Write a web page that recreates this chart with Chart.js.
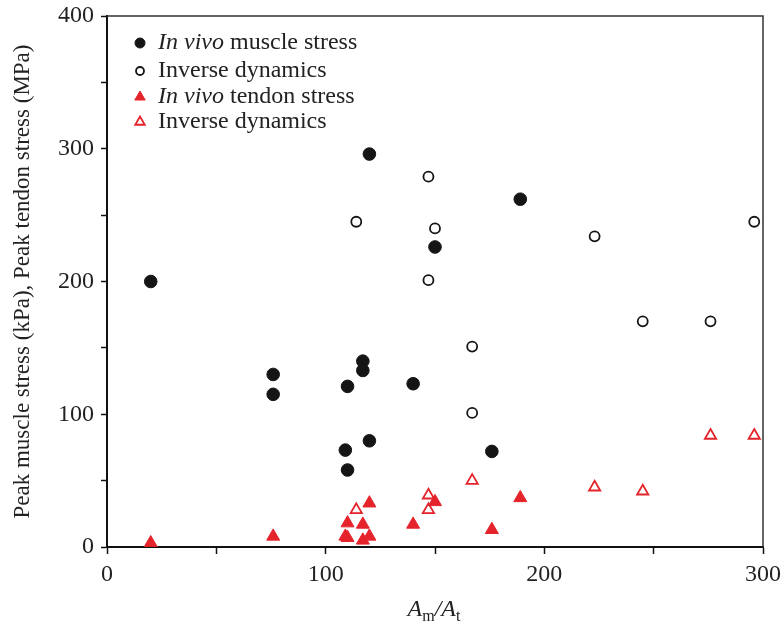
<!DOCTYPE html>
<html>
<head>
<meta charset="utf-8">
<script src="https://cdn.jsdelivr.net/npm/chart.js@4"></script>
<style>
  html, body { margin: 0; padding: 0; background: #fff; }
  #wrap { width: 783px; height: 623px; position: relative; }
</style>
</head>
<body>
<div id="wrap"><canvas id="stressChart"></canvas></div>
<script>
// data: x = Am/At, y = peak stress
const muscleInVivo = [
  [20, 200], [76, 130], [76, 115], [110, 121], [117, 140], [117, 133], [120, 296],
  [140, 123], [150, 226], [189, 262], [109, 73], [110, 58], [120, 80], [176, 72]
];
const muscleInverse = [
  [147, 279], [114, 245], [150, 240], [147, 201], [167, 151], [167, 101],
  [223, 234], [245, 170], [276, 170], [296, 245]
];
const tendonInVivo = [
  [20, 3], [76, 8], [110, 18], [109, 8], [110, 7], [117, 17], [117, 5], [120, 8],
  [120, 33], [140, 17], [150, 34], [176, 13], [189, 37]
];
const tendonInverse = [
  [114, 28], [147, 39], [147, 28], [167, 50], [223, 45], [245, 42], [276, 84], [296, 84]
];

// legend text, italic parts flagged
const legendLabels = [
  [['In vivo', true], [' muscle stress', false]],
  [['Inverse dynamics', false]],
  [['In vivo', true], [' tendon stress', false]],
  [['Inverse dynamics', false]]
];

const FONT = '"Liberation Serif", "Times New Roman", serif';
const RED = '#e5232b';
const BLACK = '#151515';

function toPts(arr) {
  return arr.map(p => ({ x: p[0], y: p[1] }));
}

// box around the plot area
const frame = {
  id: 'frame',
  afterDraw(chart) {
    const { ctx, chartArea: a } = chart;
    ctx.save();
    ctx.strokeStyle = '#333';
    ctx.lineWidth = 1.5;
    ctx.beginPath();
    ctx.moveTo(a.left, a.top);
    ctx.lineTo(a.right, a.top);
    ctx.lineTo(a.right, a.bottom);
    ctx.stroke();
    ctx.restore();
  }
};

// legend with mixed italic text
const mixedLegend = {
  id: 'mixedLegend',
  afterDraw(chart) {
    const ctx = chart.ctx;
    const rows = [43, 71, 97, 122];
    ctx.save();
    chart.data.datasets.forEach((ds, i) => {
      const y = rows[i];
      ctx.fillStyle = ds.backgroundColor;
      ctx.strokeStyle = ds.borderColor;
      ctx.lineWidth = ds.borderWidth;
      Chart.helpers.drawPoint(ctx, {
        pointStyle: ds.pointStyle,
        radius: ds.legendRadius,
        borderWidth: ds.borderWidth,
        rotation: 0
      }, 140, y);
      let x = 158;
      ctx.fillStyle = '#222';
      ctx.textBaseline = 'middle';
      ctx.textAlign = 'left';
      legendLabels[i].forEach(([txt, it]) => {
        ctx.font = (it ? 'italic ' : '') + '24px ' + FONT;
        ctx.fillText(txt, x, y);
        x += ctx.measureText(txt).width;
      });
    });
    ctx.restore();
  }
};

// x axis title Am/At with subscripts
const xTitle = {
  id: 'xTitle',
  afterDraw(chart) {
    const ctx = chart.ctx;
    const parts = [
      ['A', 'italic 24px ', 0],
      ['m', '16px ', 5],
      ['/', 'italic 24px ', 0],
      ['A', 'italic 24px ', 0],
      ['t', '16px ', 5]
    ];
    ctx.save();
    ctx.fillStyle = '#222';
    ctx.textBaseline = 'alphabetic';
    let total = 0;
    parts.forEach(p => { ctx.font = p[1] + FONT; total += ctx.measureText(p[0]).width; });
    let x = 434 - total / 2;
    parts.forEach(p => {
      ctx.font = p[1] + FONT;
      ctx.fillText(p[0], x, 616 + p[2]);
      x += ctx.measureText(p[0]).width;
    });
    ctx.restore();
  }
};

new Chart(document.getElementById('stressChart'), {
  type: 'scatter',
  data: {
    datasets: [
      {
        label: 'In vivo muscle stress',
        data: toPts(muscleInVivo),
        pointStyle: 'circle',
        pointRadius: 6.3,
        legendRadius: 5,
        backgroundColor: BLACK,
        borderColor: BLACK,
        borderWidth: 1
      },
      {
        label: 'Inverse dynamics',
        data: toPts(muscleInverse),
        pointStyle: 'circle',
        pointRadius: 5,
        legendRadius: 4,
        backgroundColor: '#fff',
        borderColor: BLACK,
        borderWidth: 1.8
      },
      {
        label: 'In vivo tendon stress',
        data: toPts(tendonInVivo),
        pointStyle: 'triangle',
        pointRadius: 7.5,
        legendRadius: 6,
        backgroundColor: RED,
        borderColor: RED,
        borderWidth: 1
      },
      {
        label: 'Inverse dynamics',
        data: toPts(tendonInverse),
        pointStyle: 'triangle',
        pointRadius: 6.5,
        legendRadius: 5.5,
        backgroundColor: '#fff',
        borderColor: RED,
        borderWidth: 1.8
      }
    ]
  },
  options: {
    responsive: true,
    maintainAspectRatio: false,
    animation: false,
    layout: { padding: { top: 16, right: 20, left: 0, bottom: 0 } },
    plugins: {
      legend: { display: false },
      tooltip: { enabled: false }
    },
    scales: {
      x: {
        type: 'linear',
        min: 0,
        max: 300,
        afterFit(scale) {
          scale.height = 76;
          scale.paddingLeft = 0;
          scale.paddingRight = 0;
        },
        border: { color: '#111', width: 2 },
        grid: { drawOnChartArea: false, drawTicks: true, tickLength: 7, color: '#111', tickWidth: 1.5 },
        ticks: {
          stepSize: 50,
          padding: 6,
          maxRotation: 0,
          color: '#222',
          font: { family: FONT, size: 24 },
          callback: v => (v % 100 === 0 ? v : '')
        }
      },
      y: {
        min: 0,
        max: 400,
        afterFit(scale) {
          scale.width = 107;
          scale.paddingTop = 0;
          scale.paddingBottom = 0;
        },
        border: { color: '#111', width: 2 },
        grid: { drawOnChartArea: false, drawTicks: true, tickLength: 6, color: '#111', tickWidth: 1.5 },
        ticks: {
          stepSize: 50,
          padding: 7,
          color: '#222',
          font: { family: FONT, size: 24 },
          callback: v => (v % 100 === 0 ? v : '')
        },
        title: {
          display: true,
          text: 'Peak muscle stress (kPa), Peak tendon stress (MPa)',
          color: '#222',
          font: { family: FONT, size: 23 },
          padding: { top: 9, bottom: 0 }
        }
      }
    }
  },
  plugins: [frame, mixedLegend, xTitle]
});
</script>
</body>
</html>
